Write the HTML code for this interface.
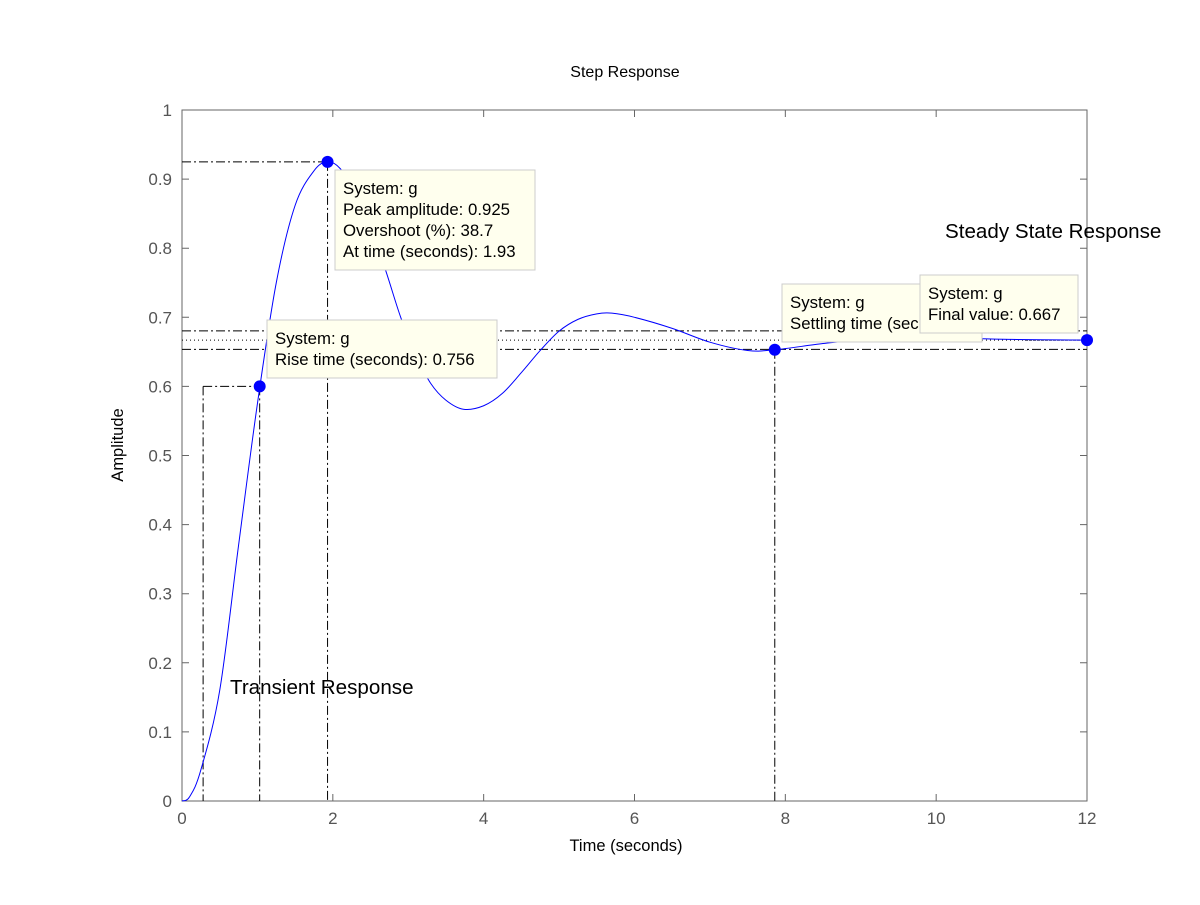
<!DOCTYPE html>
<html><head><meta charset="utf-8"><style>
body{margin:0;background:#fff;}
svg text{font-family:"Liberation Sans",Arial,sans-serif;}
</style></head><body>
<svg id="chart" width="1200" height="900" xmlns="http://www.w3.org/2000/svg">
<rect width="1200" height="900" fill="#fff"/>
<g id="grid"></g>
<g id="curve"></g>
<g id="ann"></g>
</svg>
<script>
const times=[0,0.1,0.25,0.5,0.75,1.0,1.25,1.5,1.75,1.93,2.1,2.3,2.5,2.7,2.9,3.1,3.3,3.5,3.73,4.0,4.25,4.5,4.75,5.0,5.25,5.5,5.7,6.0,6.5,7.0,7.5,7.86,8.5,9.0,10,11,12];
const amps=[0,0.006,0.045,0.16,0.37,0.575,0.75,0.862,0.912,0.925,0.915,0.88,0.83,0.768,0.7,0.645,0.604,0.58,0.567,0.572,0.59,0.62,0.652,0.68,0.697,0.705,0.706,0.7,0.684,0.664,0.652,0.653,0.662,0.667,0.670,0.668,0.667];
const xTicks=[0,2,4,6,8,10,12];
const yTicks=[0,0.1,0.2,0.3,0.4,0.5,0.6,0.7,0.8,0.9,1];
const peakT=1.93, peakA=0.925;
const riseT0=0.28, riseT1=1.03, riseA=0.6;
const settleT=7.86, settleA=0.653, finalA=0.667;
const X0=182,X1=1087,Y0=801,Y1=110;
const sx=t=>X0+(X1-X0)*t/12, sy=a=>Y0-(Y0-Y1)*a;
const NS='http://www.w3.org/2000/svg';
function mk(tag,attrs,parent,txt){const e=document.createElementNS(NS,tag);for(const k in attrs)e.setAttribute(k,attrs[k]);if(txt!==undefined)e.textContent=txt;document.getElementById(parent).appendChild(e);return e;}
let e=mk('rect',{x:X0,y:Y1,width:X1-X0,height:Y0-Y1,fill:'none',stroke:'#666','stroke-width':1},'grid');


xTicks.forEach(t=>{
 let l=mk('path',{d:`M${sx(t)},${Y0}v-7M${sx(t)},${Y1}v7`,stroke:'#666'},'grid');
 
 
 let tx=mk('text',{x:sx(t),y:Y0+23,'font-size':17,fill:'#555','text-anchor':'middle'},'grid',String(t));
 
 
});
yTicks.forEach(a=>{
 let l=mk('path',{d:`M${X0},${sy(a)}h7M${X1},${sy(a)}h-7`,stroke:'#666'},'grid');
 
 
 let tx=mk('text',{x:X0-10,y:sy(a)+6,'font-size':17,fill:'#555','text-anchor':'end'},'grid',String(a));
 
 
});
let t1=mk('text',{x:625,y:77,'font-size':16,'text-anchor':'middle'},'grid','Step Response');


let t2=mk('text',{x:626,y:851,'font-size':16.5,'text-anchor':'middle'},'grid','Time (seconds)');


let t3=mk('text',{x:123,y:445,'font-size':16.5,'text-anchor':'middle',transform:'rotate(-90 123 445)'},'grid','Amplitude');


const dd='9,3,2,3';
function ln(x1,y1,x2,y2,dash,name){let l=mk('line',{x1,y1,x2,y2,stroke:'#000','stroke-width':1,'stroke-dasharray':dash},'grid');}
ln(X0,sy(peakA),sx(peakT),sy(peakA),dd,'peak-hline');
ln(sx(peakT),sy(peakA),sx(peakT),Y0,dd,'peak-vline');
ln(sx(riseT0),sy(riseA),sx(riseT1),sy(riseA),dd,'rise-hline');
ln(sx(riseT0),sy(riseA),sx(riseT0),Y0,dd,'rise-start-vline');
ln(sx(riseT1),sy(riseA),sx(riseT1),Y0,dd,'rise-end-vline');
ln(X0,sy(finalA*1.02),X1,sy(finalA*1.02),dd,'settle-upper-band');
ln(X0,sy(finalA*0.98),X1,sy(finalA*0.98),dd,'settle-lower-band');
ln(X0,sy(finalA),X1,sy(finalA),'1,3','final-value-line');
ln(1025,sy(finalA),X1,sy(finalA),'1,1','final-value-marker-line');
ln(sx(settleT),sy(settleA),sx(settleT),Y0,dd,'settle-vline');
const P=times.map((t,i)=>[sx(t),sy(amps[i])]);
let d=`M${P[0][0]},${P[0][1]}`;
for(let i=0;i<P.length-1;i++){const p0=P[Math.max(0,i-1)],p1=P[i],p2=P[i+1],p3=P[Math.min(P.length-1,i+2)];
 d+=` C${p1[0]+(p2[0]-p0[0])/6},${p1[1]+(p2[1]-p0[1])/6} ${p2[0]-(p3[0]-p1[0])/6},${p2[1]-(p3[1]-p1[1])/6} ${p2[0]},${p2[1]}`;}
let c=mk('path',{d,fill:'none',stroke:'#0000ff','stroke-width':1},'curve');


function dot(t,a,name){let m=mk('circle',{cx:sx(t),cy:sy(a),r:6,fill:'#0000ff'},'ann');}
dot(peakT,peakA,'peak-marker');dot(riseT1,riseA,'rise-marker');dot(settleT,settleA,'settle-marker');dot(12,finalA,'final-marker');
function tip(x,y,w,h,lines,name){
 const g=document.createElementNS(NS,'g');document.getElementById('ann').appendChild(g);
 
 
 const r=document.createElementNS(NS,'rect');[['x',x],['y',y],['width',w],['height',h],['fill','#ffffee'],['stroke','#ccc']].forEach(([k,v])=>r.setAttribute(k,v));g.appendChild(r);
 lines.forEach((s,i)=>{const t=document.createElementNS(NS,'text');t.setAttribute('x',x+8);t.setAttribute('y',y+24+i*21);t.setAttribute('font-size',16.8);t.textContent=s;g.appendChild(t);});
}
tip(335,170,200,100,['System: g','Peak amplitude: 0.925','Overshoot (%): 38.7','At time (seconds): 1.93'],'peak-datatip');
tip(267,320,230,58,['System: g','Rise time (seconds): 0.756'],'rise-datatip');
tip(782,284,200,58,['System: g','Settling time (seconds): 7.86'],'settle-datatip');
tip(920,275,158,58,['System: g','Final value: 0.667'],'final-datatip');
let a1=mk('text',{x:230,y:694,'font-size':20.6},'ann','Transient Response');


let a2=mk('text',{x:945,y:238,'font-size':20.6},'ann','Steady State Response');


</script>
</body></html>
